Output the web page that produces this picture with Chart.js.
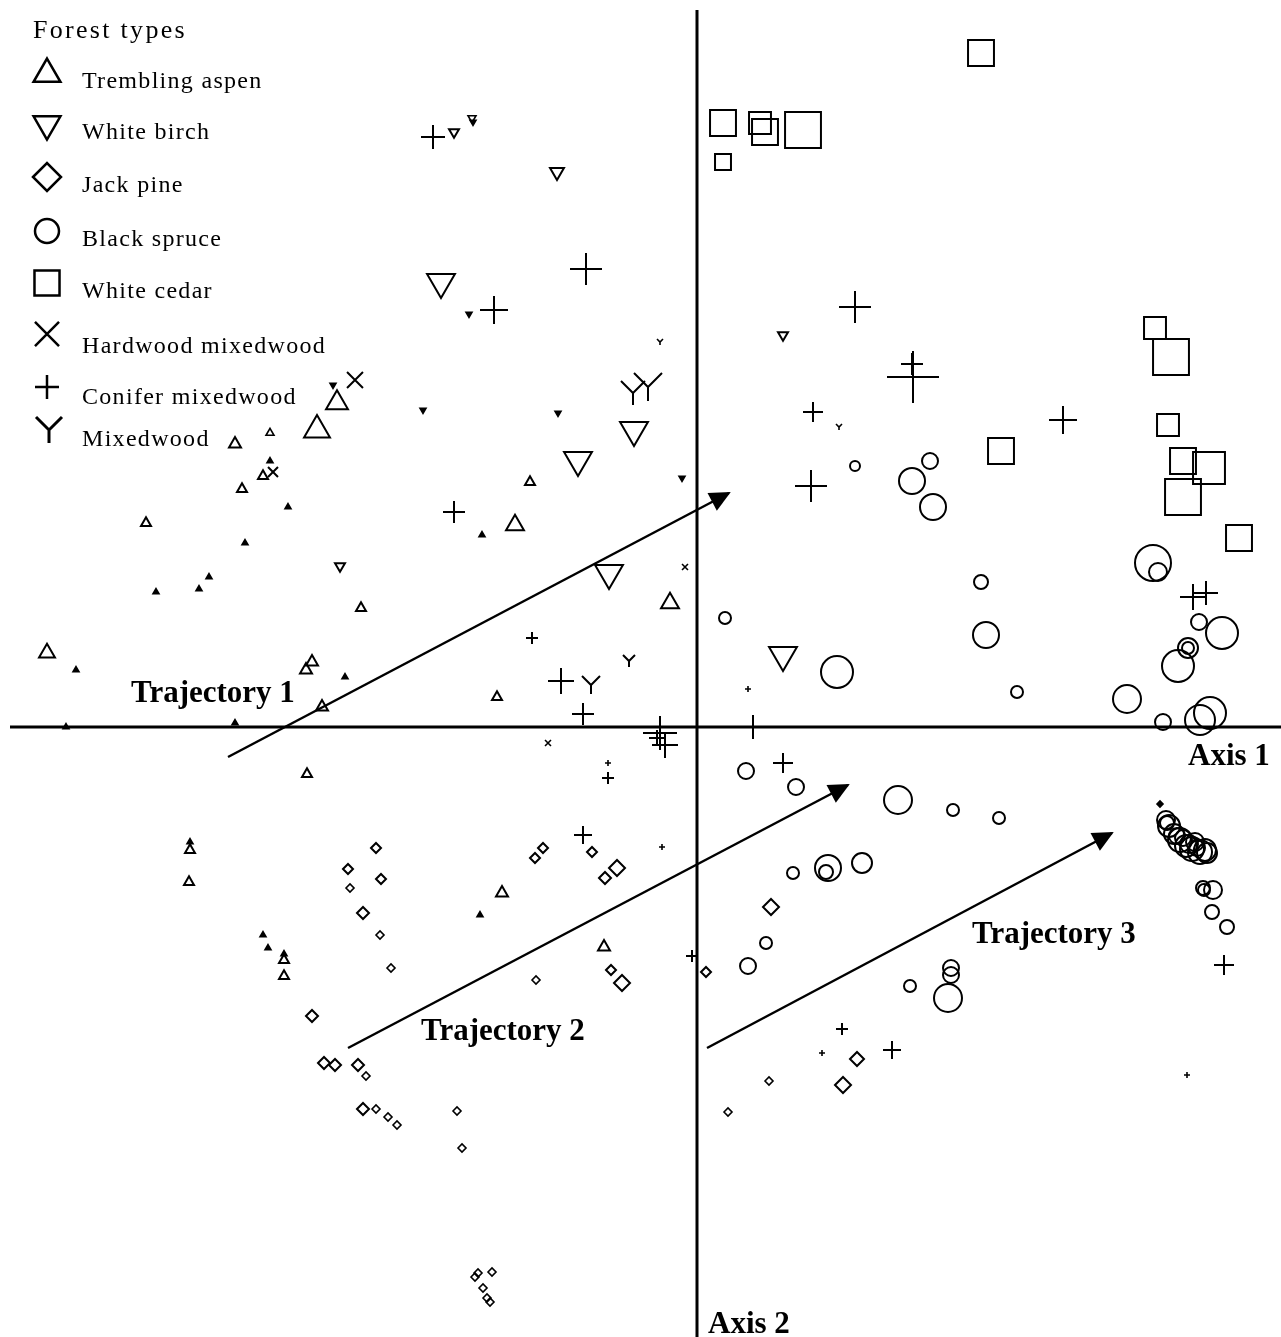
<!DOCTYPE html>
<html lang="en">
<head>
<meta charset="UTF-8">
<title>Forest types - ordination</title>
<script src="https://cdn.jsdelivr.net/npm/chart.js"></script>
<style>
  body { margin: 0; background: #fff; }
  #wrap { position: relative; width: 1281px; height: 1337px; }
</style>
</head>
<body>
<div id="wrap"><canvas id="ordination"></canvas></div>
<script>
// site scores: [axis 1, axis 2, relative size]
const tremblingAspen = [
  [-3.60,3.24,11],[-3.80,2.97,13],[-4.62,2.83,6],[-4.27,2.94,4],[-4.27,2.66,3],[-4.34,2.51,5],
  [-4.55,2.38,5],[-4.09,2.20,3],[-5.51,2.04,5],[-4.52,1.84,3],[-4.88,1.50,3],[-4.98,1.38,3],
  [-5.41,1.35,3],[-3.36,1.19,5],[-6.50,0.74,8],[-6.21,0.57,3],[-3.85,0.65,6],[-3.91,0.57,6],
  [-3.52,0.50,3],[-3.75,0.20,6],[-4.62,0.04,3],[-6.31,0.00,3],[-3.90,-0.47,5],[-5.07,-1.23,5],
  [-5.07,-1.15,3],[-5.08,-1.55,5],[-4.34,-2.08,3],[-4.29,-2.21,3],[-4.13,-2.33,5],[-4.13,-2.49,5],
  [-4.13,-2.27,3],[-2.17,-1.88,3],[-1.95,-1.66,6],[-0.93,-2.20,6],[-1.67,2.45,5],[-2.15,1.92,3],
  [-1.82,2.02,9],[-0.27,1.24,9],[-2.00,0.30,5]
];
const whiteBirch = [
  [-3.64,3.42,3],[-3.57,1.61,5],[-2.43,5.95,5],[-2.25,6.09,4],[-2.24,6.05,3],[-1.40,5.55,7],
  [-2.56,4.45,14],[-2.28,4.13,3],[0.86,3.92,5],[-1.39,3.14,3],[-2.74,3.17,3],[-0.63,2.97,14],
  [-1.19,2.67,14],[-0.15,2.49,3],[-0.88,1.54,14],[0.86,0.72,14]
];
const jackPine = [
  [-3.21,-1.21,5],[-3.49,-1.42,5],[-3.16,-1.52,5],[-3.47,-1.61,4],[-3.34,-1.86,6],[-3.17,-2.08,4],
  [-3.06,-2.41,4],[-3.85,-2.89,6],[-3.73,-3.36,6],[-3.62,-3.38,6],[-3.39,-3.38,6],[-3.31,-3.49,4],
  [-3.34,-3.82,6],[-3.21,-3.82,4],[-3.09,-3.90,4],[-3.00,-3.98,4],[-0.86,-2.43,5],[-0.75,-2.56,8],
  [-1.61,-2.53,4],[0.09,-2.45,5],[0.74,-1.80,8],[0.72,-3.54,4],[0.31,-3.85,4],[1.60,-3.32,7],
  [1.46,-3.58,8],[-2.40,-3.84,4],[-2.35,-4.21,4],[-2.19,-5.46,4],[-2.05,-5.45,4],[-2.22,-5.50,4],
  [-2.14,-5.61,4],[-2.10,-5.71,4],[-2.07,-5.75,4],[-1.05,-1.25,5],[-1.62,-1.31,5],[-1.54,-1.21,5],
  [-0.92,-1.51,6],[-0.80,-1.41,8],[4.63,-0.77,3]
];
const blackSpruce = [
  [0.28,1.09,6],[1.40,0.55,16],[1.58,2.61,5],[2.33,2.66,8],[2.15,2.46,13],[2.36,2.20,13],
  [2.84,1.45,7],[2.89,0.92,13],[3.20,0.35,6],[4.56,1.64,18],[4.61,1.55,9],[5.02,1.05,8],
  [5.25,0.94,16],[4.91,0.79,10],[4.91,0.79,6],[4.81,0.61,16],[4.30,0.28,14],[4.66,0.05,8],
  [5.13,0.14,16],[5.03,0.07,15],[2.01,-0.73,14],[2.56,-0.83,6],[3.02,-0.91,6],[1.65,-1.36,10],
  [0.49,-0.44,8],[0.99,-0.60,8],[0.96,-1.46,6],[1.31,-1.41,13],[1.29,-1.45,7],[0.69,-2.16,6],
  [0.51,-2.39,8],[2.13,-2.59,6],[2.54,-2.41,8],[2.54,-2.48,8],[2.51,-2.71,14],[5.15,-1.85,7],
  [5.30,-2.00,7],[5.06,-1.61,7],[5.16,-1.63,9],[4.69,-0.93,9],[4.72,-0.99,11],[4.77,-1.07,10],
  [4.83,-1.13,12],[4.89,-1.19,11],[4.95,-1.22,12],[5.03,-1.25,12],[4.98,-1.15,9],[4.86,-1.11,8],
  [5.10,-1.26,10],[4.70,-0.96,7],[4.80,-1.09,8],[4.92,-1.17,9],[5.00,-1.21,8],[5.08,-1.23,11],
  [5.07,-1.63,6]
];
const whiteCedar = [
  [2.84,6.74,13],[0.26,6.04,13],[0.63,6.04,11],[0.68,5.95,13],[1.06,5.97,18],[0.26,5.65,8],
  [4.58,3.99,11],[4.74,3.70,18],[4.71,3.02,11],[3.04,2.76,13],[4.86,2.66,13],[5.12,2.59,16],
  [4.86,2.30,18],[5.42,1.89,13]
];
const hardwoodMixedwood = [
  [-3.42,3.47,8],[-4.24,2.55,5],[-0.12,1.60,3],[-1.49,-0.16,3]
];
const coniferMixedwood = [
  [-2.64,5.90,12],[-1.11,4.58,16],[-2.03,4.17,14],[1.58,4.20,16],[2.16,3.50,26],[2.15,3.63,11],
  [1.16,3.15,10],[3.66,3.07,14],[1.14,2.41,16],[-2.43,2.15,11],[-1.65,0.89,6],[-1.36,0.46,13],
  [-1.14,0.13,11],[0.51,0.38,3],[0.56,0.00,12],[-0.37,-0.06,17],[-0.32,-0.18,13],[-0.40,-0.11,8],
  [-0.89,-0.36,3],[-0.89,-0.51,6],[0.86,-0.36,10],[-1.14,-1.08,9],[-0.35,-1.20,3],[-0.05,-2.29,6],
  [1.45,-3.02,6],[1.25,-3.26,3],[1.95,-3.23,9],[4.90,-3.48,3],[5.27,-2.38,10],[4.96,1.30,13],
  [5.09,1.34,12]
];
const mixedwood = [
  [-0.64,3.34,12],[-0.49,3.40,14],[-0.37,3.85,3],[1.42,3.00,3],[-0.68,0.66,6],[-1.06,0.42,9]
];

const forestTypes = ['Trembling aspen', 'White birch', 'Jack pine', 'Black spruce',
  'White cedar', 'Hardwood mixedwood', 'Conifer mixedwood', 'Mixedwood'];
const forestSeries = [tremblingAspen, whiteBirch, jackPine, blackSpruce,
  whiteCedar, hardwoodMixedwood, coniferMixedwood, mixedwood];

// successional trajectories: start and end on the two axes
const trajectoryNames = ['Trajectory 1', 'Trajectory 2', 'Trajectory 3'];
const trajectoryFrom = [[-4.69, -0.30], [-3.49, -3.21], [0.10, -3.21]];
const trajectoryTo = [[0.32, 2.34], [1.51, -0.58], [4.15, -1.06]];
const trajectoryLabelAt = [[-5.66, 0.25], [-2.76, -3.13], [2.75, -2.16]];

const axisNames = ['Axis 1', 'Axis 2'];
const axisLabelAt = [[4.91, -0.38], [0.11, -6.06]];
const xRange = [-6.97, 5.84];
const yRange = [-6.10, 7.27];

// ---- drawing ----
const yCache = {};
function yIcon(half, lw) {
  const key = half + '_' + lw;
  if (yCache[key]) return yCache[key];
  const c = document.createElement('canvas');
  const size = Math.ceil(half * 2 + lw * 2 + 2);
  c.width = c.height = size;
  const g = c.getContext('2d');
  const m = size / 2;
  g.strokeStyle = '#000';
  g.lineWidth = lw;
  g.beginPath();
  g.moveTo(m - half, m - half); g.lineTo(m, m); g.lineTo(m + half, m - half);
  g.moveTo(m, m); g.lineTo(m, m + half);
  g.stroke();
  yCache[key] = c;
  return c;
}

const shapes = [
  {style: 'triangle', rot: 0, k: 1.15, fillTiny: true},
  {style: 'triangle', rot: 180, k: 1.15, fillTiny: true},
  {style: 'rectRot', rot: 0, k: 1, fillTiny: true},
  {style: 'circle', rot: 0, k: 1, fillTiny: false},
  {style: 'rect', rot: 0, k: 1.41, fillTiny: false},
  {style: 'crossRot', rot: 0, k: 1.41, fillTiny: false},
  {style: 'cross', rot: 0, k: 1, fillTiny: false},
  {style: 'Y', rot: 0, k: 1, fillTiny: false}
];

const lw = s => (s <= 4 ? 1.6 : 2);

const datasets = [];
forestSeries.forEach((rows, i) => {
  const sh = shapes[i];
  datasets.push({
    label: forestTypes[i],
    data: rows.map(([x, y, s]) => ({x, y, s})),
    pointStyle: c => {
      if (sh.style !== 'Y') return sh.style;
      return c.raw ? yIcon(c.raw.s, lw(c.raw.s)) : 'circle';
    },
    pointRotation: sh.rot,
    pointRadius: c => (c.raw ? c.raw.s * sh.k : 3),
    pointBorderColor: '#000',
    pointBackgroundColor: c => (c.raw && c.raw.s <= 3 && sh.fillTiny ? '#000' : 'rgba(0,0,0,0)'),
    pointBorderWidth: c => (c.raw ? lw(c.raw.s) : 2),
    showLine: false
  });
});

// the two ordination axes
datasets.push({
  label: 'axis1',
  data: [{x: -6.87, y: 0}, {x: xRange[1], y: 0}],
  showLine: true, borderColor: '#000', borderWidth: 3, pointRadius: 0
});
datasets.push({
  label: 'axis2',
  data: [{x: 0, y: 7.17}, {x: 0, y: yRange[0]}],
  showLine: true, borderColor: '#000', borderWidth: 3, pointRadius: 0
});
trajectoryNames.forEach((name, i) => {
  datasets.push({
    label: name,
    data: [{x: trajectoryFrom[i][0], y: trajectoryFrom[i][1]}, {x: trajectoryTo[i][0], y: trajectoryTo[i][1]}],
    showLine: true, borderColor: '#000', borderWidth: 2.5, pointRadius: 0
  });
});

const annotations = {
  id: 'annotations',
  afterDatasetsDraw(chart) {
    const ctx = chart.ctx;
    const sx = chart.scales.x, sy = chart.scales.y;
    ctx.save();
    ctx.fillStyle = '#000';
    // arrow heads
    trajectoryNames.forEach((n, i) => {
      const x0 = sx.getPixelForValue(trajectoryFrom[i][0]), y0 = sy.getPixelForValue(trajectoryFrom[i][1]);
      const x1 = sx.getPixelForValue(trajectoryTo[i][0]), y1 = sy.getPixelForValue(trajectoryTo[i][1]);
      const a = Math.atan2(y1 - y0, x1 - x0);
      const len = 19, half = 10;
      const bx = x1 - Math.cos(a) * len, by = y1 - Math.sin(a) * len;
      ctx.beginPath();
      ctx.moveTo(x1 + Math.cos(a) * 2, y1 + Math.sin(a) * 2);
      ctx.lineTo(bx - Math.sin(a) * half, by + Math.cos(a) * half);
      ctx.lineTo(bx + Math.sin(a) * half, by - Math.cos(a) * half);
      ctx.closePath();
      ctx.fill();
    });
    // labels
    ctx.font = 'bold 31px "Liberation Serif", "Times New Roman", serif';
    ctx.textAlign = 'left';
    ctx.textBaseline = 'alphabetic';
    trajectoryNames.forEach((n, i) => {
      ctx.fillText(n, sx.getPixelForValue(trajectoryLabelAt[i][0]), sy.getPixelForValue(trajectoryLabelAt[i][1]));
    });
    axisNames.forEach((n, i) => {
      ctx.fillText(n, sx.getPixelForValue(axisLabelAt[i][0]), sy.getPixelForValue(axisLabelAt[i][1]));
    });

    // legend
    ctx.font = '26px "Liberation Serif", "Times New Roman", serif';
    ctx.letterSpacing = '2.3px';
    ctx.fillText('Forest types', 33, 38);
    ctx.font = '24px "Liberation Serif", "Times New Roman", serif';
    ctx.letterSpacing = '1.3px';
    const baselines = [88, 139, 192, 246, 298, 353, 404, 446];
    const symY = [74, 124, 177, 231, 283, 334, 387, 430];
    const symR = [15.5, 15.5, 14, 12, 17.7, 17, 12, 14];
    forestTypes.forEach((name, i) => {
      ctx.fillText(name, 82, baselines[i]);
      const sh = shapes[i];
      ctx.strokeStyle = '#000';
      ctx.fillStyle = 'rgba(0,0,0,0)';
      ctx.lineWidth = 2.5;
      const style = sh.style === 'Y' ? yIcon(13, 3) : sh.style;
      Chart.helpers.drawPoint(ctx, {pointStyle: style, radius: symR[i], rotation: sh.rot, borderWidth: 2.5},
        sh.style === 'Y' ? 49 : 47, symY[i]);
      ctx.fillStyle = '#000';
    });
    ctx.letterSpacing = '0px';
    ctx.restore();
  }
};

new Chart(document.getElementById('ordination'), {
  type: 'scatter',
  data: {datasets},
  options: {
    responsive: true,
    maintainAspectRatio: false,
    animation: false,
    events: [],
    layout: {padding: 0, autoPadding: false},
    plugins: {legend: {display: false}, tooltip: {enabled: false}},
    scales: {
      x: {type: 'linear', min: xRange[0], max: xRange[1], display: false},
      y: {type: 'linear', min: yRange[0], max: yRange[1], display: false}
    }
  },
  plugins: [annotations]
});
</script>
</body>
</html>
